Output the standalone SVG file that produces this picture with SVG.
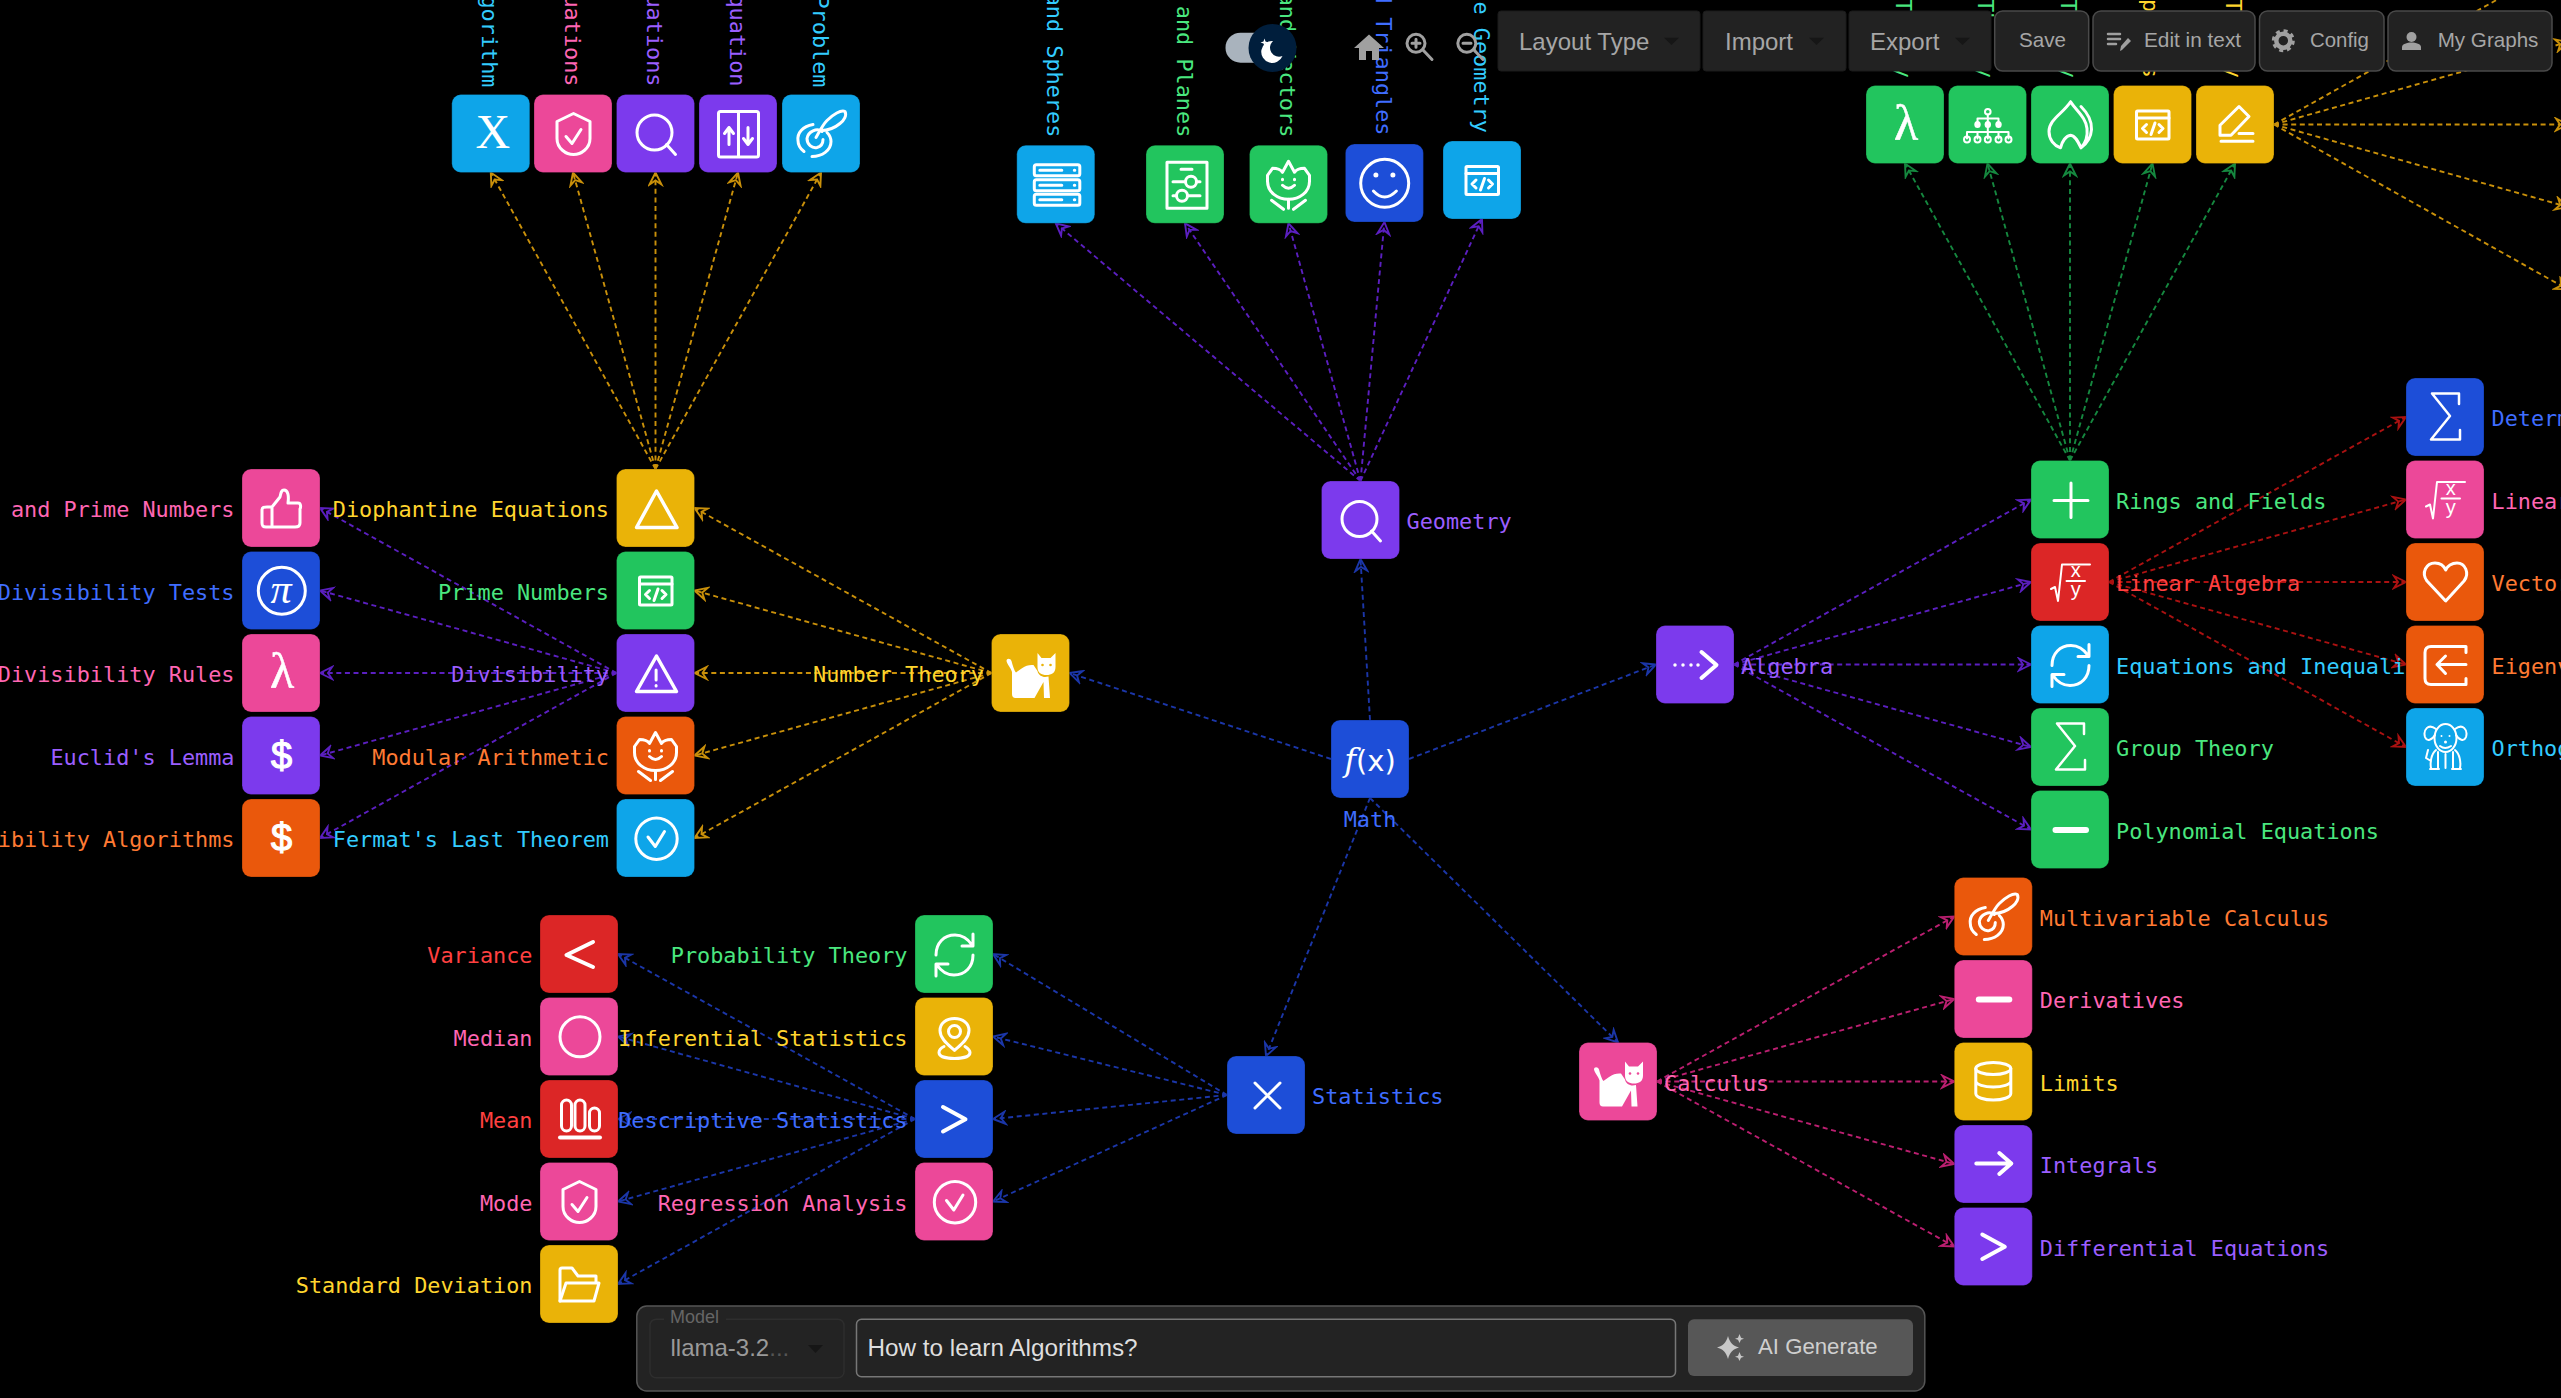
<svg xmlns="http://www.w3.org/2000/svg" width="2561" height="1398" viewBox="0 0 2561 1398">
<style>
text{font-family:"DejaVu Sans Mono",monospace}
.l{font-size:21.85px;white-space:pre}
.e{text-anchor:end}.m{text-anchor:middle}
.b{fill:currentColor;stroke:#000;stroke-opacity:.25;stroke-width:1}
.s{fill:none;stroke:#fff;stroke-width:3;stroke-linecap:round;stroke-linejoin:round}
.f{fill:#fff;stroke:none}
.cat-eye{fill:currentColor;stroke:none}
.glyph{fill:#fff;text-anchor:middle}
.serif{font-family:"Liberation Serif",serif}
.sans{font-family:"Liberation Sans",sans-serif}
.amber{color:#eab308}.green{color:#22c55e}.purple{color:#7c3aed}.orange{color:#ea580c}.sky{color:#0ea5e9}.pink{color:#ec4899}.blue{color:#1d4ed8}.red{color:#dc2626}
.t-amber{fill:#ffd52e}.t-green{fill:#4ae77f}.t-purple{fill:#9b5eff}.t-orange{fill:#ff7a33}.t-sky{fill:#33ccff}.t-pink{fill:#ff66b3}.t-blue{fill:#3f6dff}.t-red{fill:#ff4040}
line{stroke-width:1.9;stroke-dasharray:5 3.6;fill:none}
.ea{stroke:#c9900a;marker-end:url(#a-amber)}
.ep{stroke:#5b1fc0;marker-end:url(#a-purple)}
.eb{stroke:#1b36a8;marker-end:url(#a-blue)}
.eg{stroke:#15883f;marker-end:url(#a-green)}
.er{stroke:#aa1111;marker-end:url(#a-red)}
.ek{stroke:#bb1f70;marker-end:url(#a-pink)}
.mk{fill:none;stroke-width:1.9;stroke-linejoin:miter}
.ui{font-family:"Liberation Sans",sans-serif;fill:#a6a6a6}
.tb{fill:#222;stroke:#1a1a1a}
.tb2{fill:#222;stroke:#4a4a4a;stroke-width:1.5}
.tri{fill:#161616}
.g9{fill:#a0a0a0}
.gs{fill:none;stroke:#a0a0a0;stroke-width:3;stroke-linecap:round}
</style>
<defs>
<marker id="a-amber" viewBox="-14 -8 16 16" markerUnits="userSpaceOnUse" markerWidth="16" markerHeight="16" refX="0" refY="0" orient="auto"><path class="mk" stroke="#c9900a" d="M-12-6L0 0L-12 6L-8 0Z"/></marker>
<marker id="a-purple" viewBox="-14 -8 16 16" markerUnits="userSpaceOnUse" markerWidth="16" markerHeight="16" refX="0" refY="0" orient="auto"><path class="mk" stroke="#5b1fc0" d="M-12-6L0 0L-12 6L-8 0Z"/></marker>
<marker id="a-blue" viewBox="-14 -8 16 16" markerUnits="userSpaceOnUse" markerWidth="16" markerHeight="16" refX="0" refY="0" orient="auto"><path class="mk" stroke="#1b36a8" d="M-12-6L0 0L-12 6L-8 0Z"/></marker>
<marker id="a-green" viewBox="-14 -8 16 16" markerUnits="userSpaceOnUse" markerWidth="16" markerHeight="16" refX="0" refY="0" orient="auto"><path class="mk" stroke="#15883f" d="M-12-6L0 0L-12 6L-8 0Z"/></marker>
<marker id="a-red" viewBox="-14 -8 16 16" markerUnits="userSpaceOnUse" markerWidth="16" markerHeight="16" refX="0" refY="0" orient="auto"><path class="mk" stroke="#aa1111" d="M-12-6L0 0L-12 6L-8 0Z"/></marker>
<marker id="a-pink" viewBox="-14 -8 16 16" markerUnits="userSpaceOnUse" markerWidth="16" markerHeight="16" refX="0" refY="0" orient="auto"><path class="mk" stroke="#bb1f70" d="M-12-6L0 0L-12 6L-8 0Z"/></marker>
<rect id="box" class="b" width="78" height="78" rx="9"/>
<g id="i-shield" class="s"><path d="M39.5 19L56 27V44C56 54 47 60 39.5 60C32 60 23 54 23 44V27Z"/><path d="M32 42L38 49L47 35"/></g>
<g id="i-search" class="s"><circle cx="38" cy="38" r="17.5"/><path d="M50 50L59 60"/></g>
<g id="i-split" class="s"><rect x="19.5" y="17" width="40" height="45.5" rx="2"/><path d="M39.5 17V62M30 50V33M25.5 39L30 33L34.5 39M49 33V50M44.5 44L49 50L53.5 44"/></g>
<g id="i-quill" class="s"><path d="M31 30C21 32 15 38 16 46C16 50 18 54 22 57"/><path d="M30 62C40 62 49 56 49 47C49 43 47 40 45 38"/><path d="M40 37C35 33 26 37 25 44C25 50 30 54 35 53C39 52 41 49 41 45"/><path d="M34 43C38 36 41 30 45 26C51 20 59 15 63 17C65 21 62 26 58 29C52 34 45 36 39 36"/></g>
<g id="i-server" class="s"><rect x="17.5" y="19.5" width="45.5" height="11" rx="2"/><rect x="17.5" y="34.5" width="45.5" height="11" rx="2"/><rect x="17.5" y="49" width="45.5" height="11" rx="2"/><path d="M23 25H45M23 40H45M23 54.500H45M57.500 25H58M57.500 40H58M57.500 54.500H58"/></g>
<g id="i-sliders" class="s"><rect x="21" y="17" width="40" height="46"/><path d="M35 24H46M27 36.500H39M51 36.500H54M42 50.500H54M27 50.500H30"/><circle cx="45" cy="36.500" r="5.500"/><circle cx="36" cy="50.500" r="5.500"/></g>
<g id="i-tulip" class="s"><path d="M18 30L23 23C27 23 31 24 33 27L39 16L45 27C47 24 51 23 55 23L60 30V36C60 47 50 54 39 54C28 54 18 47 18 36Z"/><path d="M33 40Q39 46 45 40M33 34V34.500M45 34V34.500M39 54V63M22 55L34 64M56 55L44 64"/></g>
<g id="i-smile" class="s"><ellipse cx="39.300" cy="39.300" rx="24" ry="24"/><path d="M28 47Q39 59 51 47"/><circle class="f" cx="30.500" cy="31" r="2.500"/><circle class="f" cx="47.500" cy="31" r="2.500"/></g>
<g id="i-code" class="s"><rect x="23" y="25.500" width="32.500" height="28" rx="1"/><path d="M23 32.500H55.500M33 39L29 43L33 47M45.500 39L49.500 43L45.500 47M41.500 37.500L37.500 49"/></g>
<g id="i-tri" class="s"><path d="M40 22L60.500 58.500H20Z" stroke-width="3.500"/></g>
<g id="i-warn" class="s"><path d="M40 22L60 57.500H20Z" stroke-width="3.500"/><path d="M39.600 36V46M39.600 51.500V52"/></g>
<g id="i-check" class="s"><circle cx="40" cy="39.700" r="20.700"/><path d="M31.500 38L38.800 47.500L48 32.500"/></g>
<g id="i-thumb" class="s"><path d="M30 38L38 28C39 24 39 21 42 21C46 21 47 27 46 34H56C59 34 59 38 58 40V54C58 57 56 58 53 58H24C21 58 20 57 20 54V41C20 38 22 38 25 38H30V58"/></g>
<g id="i-cat"><path class="f" d="M20.500 38C19 33 16 31 15 27C15 24 19 24 20 27C21 31 23 37 24.500 38.500C28 36 34 30 42 31L46 37C47 42 52 44 57 42.500L58.500 64H52.500L52 48L43 64H24Q20.500 64 20.500 60Z"/><path class="f" d="M46 19L50 24H59L64 19V33C64 39 60 41 55 41C50 41 46 39 46 33Z"/><circle class="cat-eye" cx="51" cy="31" r="1.300"/><circle class="cat-eye" cx="59" cy="31" r="1.300"/></g>
<g id="i-refresh" class="s"><path d="M21 40C21 28 29 20 40 20C47 20 53 24 57 30M58 19V31H47M58 40C58 52 50 60 39 60C32 60 26 56 22 50M21 61V49H33"/></g>
<g id="i-pin" class="s"><path d="M39.500 53C33 47 25 41 25 33C25 26 31 21 39.500 21C48 21 54 26 54 33C54 41 46 47 39.500 53Z"/><circle cx="39.500" cy="34" r="6"/><path d="M29 49C25 51 24 53 24 55C24 59 31 61 39.500 61C48 61 55 59 55 55C55 53 53 51 50 49"/></g>
<path id="i-chev" class="s" style="stroke-width:4" d="M28 27L50.500 39.300L28 51.500"/>
<path id="i-lt" class="s" style="stroke-width:4" d="M53 27L26.500 40L53 52"/>
<circle id="i-circle" class="s" cx="40" cy="39.300" r="20"/>
<g id="i-bars" class="s"><rect x="21.500" y="20" width="10" height="31" rx="5"/><rect x="35" y="20" width="10" height="31" rx="5"/><rect x="49.500" y="28" width="10" height="23" rx="5"/><path style="stroke-width:4" d="M20 57.500H60"/></g>
<g id="i-folder" class="s"><path d="M20 56V25Q20 23 22 23H32L38 31H56V37"/><path d="M26 38H59L54 56H20Z"/></g>
<path id="i-plus" class="s" d="M23 40H57M40 22.500V57"/>
<g id="i-sqrt"><path class="s" style="stroke-width:2" d="M20 46L24 44L27 58L31 21.500H59M35.500 38H54"/><text class="glyph sans" x="44.700" y="34" font-size="20">x</text><text class="glyph sans" x="44.700" y="53" font-size="20">y</text></g>
<path id="i-sigma" class="s" style="stroke-width:2.500" d="M53 26V15.500H26L44 38L25 61.500H54V52"/>
<rect id="i-minus" class="f" x="21.500" y="36.500" width="36.500" height="6" rx="3"/>
<path id="i-heart" class="s" d="M39.700 58L21 38C15 30 20 20 29 20C34 20 38 23 39.700 27C41 23 46 20 51 20C59 20 64 30 58 38Z"/>
<g id="i-exit" class="s"><path d="M60 27V21H25Q19 21 19 27V53Q19 59 25 59H60V53M60 39H31M39.500 30.500L31 39L39.500 48"/></g>
<g id="i-dog" class="s" style="stroke-width:2"><ellipse cx="39.500" cy="30" rx="11" ry="14"/><path d="M30 21C22 15 17 22 19 29C21 34 26 32 29 27M49 21C57 15 62 22 60 29C58 34 53 32 50 27M34 38Q39 42 45 38M30 42C25 46 24 55 25 60M49 42C54 46 55 55 54 60M32 44V60M47 44V60M39.500 46V60M24 61H33M46 61H55M22 42L20 50L25 53"/><circle class="f" cx="35.500" cy="28" r="1"/><circle class="f" cx="43.500" cy="28" r="1"/><circle class="f" cx="39.500" cy="34" r="1.500"/></g>
<g id="i-db" class="s"><ellipse cx="39" cy="26" rx="17.500" ry="6"/><path d="M21.500 26V51C21.500 55 30 57.500 39 57.500C48 57.500 56.500 55 56.500 51V26M21.500 38.500C21.500 42 30 44.500 39 44.500C48 44.500 56.500 42 56.500 38.500"/></g>
<path id="i-arrow" class="s" style="stroke-width:4" d="M22 38.500H57M45 28L57 38.500L45 49"/>
<path id="i-x" class="s" style="stroke-width:3" d="M28 27L53 52M53 27L28 52" />
<g id="i-dots" class="s"><path style="stroke-width:3.500" d="M19 39.500V39.600M27 39.500V39.600M35 39.500V39.600M42 39.500V39.600"/><path style="stroke-width:4" d="M45.500 26.500L60.500 39.500L45.500 52.500"/></g>
<g id="i-tree" class="s" style="stroke-width:2"><circle cx="39.300" cy="26.300" r="2.800"/><path d="M39.300 29V46M29 39V33H50V39M18.500 53V46.500H60V53M29 46.500V53M39.300 46.500V53M50 46.500V53"/><ellipse class="f" cx="29" cy="39" rx="3.200" ry="3.500"/><ellipse class="f" cx="39.300" cy="39" rx="3.200" ry="3.500"/><ellipse class="f" cx="50" cy="39" rx="3.200" ry="3.500"/><circle cx="18.500" cy="54" r="3"/><circle cx="29" cy="54" r="3"/><circle cx="39.300" cy="54" r="3"/><circle cx="50" cy="54" r="3"/><circle cx="60" cy="54" r="3"/></g>
<g id="i-flame" class="s"><path d="M39.600 16.300C32 28 18 34 18 46C18 54 23 60 29.500 62.300C31 56 35 50 39.600 49.700C44 50 47 56 50 62.300C54 58 57 52 56 43C55 32 46 26 39.600 16.300M50 21C56 27 61 35 60.500 44C60 52 56 58 50 62.300"/></g>
<g id="i-pencil" class="s"><path d="M43 21L53 31L35 49.700H24V39.700Z"/><path d="M43 48H57M25 55.700H57"/></g>
<g id="i-lambda"><text class="glyph serif" x="40" y="54" font-size="50" stroke="#fff" stroke-width=".5">λ</text></g>
<g id="i-dollar"><text class="glyph sans" x="39.500" y="52" font-size="38" stroke="#fff" stroke-width="1.200">$</text></g>
</defs>
<rect width="2561" height="1398" fill="#000"/>
<g id="connectors">
<line class="eb" x1="1331" y1="759" x2="1069.500" y2="673"/>
<line class="eb" x1="1370" y1="720" x2="1360.500" y2="559"/>
<line class="eb" x1="1409" y1="759" x2="1656" y2="664.500"/>
<line class="eb" x1="1370" y1="798" x2="1266" y2="1056"/>
<line class="eb" x1="1370" y1="798" x2="1618" y2="1042.500"/>
<line class="ea" x1="991.500" y1="673" x2="694.500" y2="508"/>
<line class="ea" x1="991.500" y1="673" x2="694.500" y2="590.500"/>
<line class="ea" x1="991.500" y1="673" x2="694.500" y2="673"/>
<line class="ea" x1="991.500" y1="673" x2="694.500" y2="755.500"/>
<line class="ea" x1="991.500" y1="673" x2="694.500" y2="838"/>
<line class="ep" x1="616.500" y1="673" x2="320" y2="508"/>
<line class="ep" x1="616.500" y1="673" x2="320" y2="590.500"/>
<line class="ep" x1="616.500" y1="673" x2="320" y2="673"/>
<line class="ep" x1="616.500" y1="673" x2="320" y2="755.500"/>
<line class="ep" x1="616.500" y1="673" x2="320" y2="838"/>
<line class="ea" x1="655.500" y1="469" x2="490.800" y2="172.500"/>
<line class="ea" x1="655.500" y1="469" x2="573" y2="172.500"/>
<line class="ea" x1="655.500" y1="469" x2="655.500" y2="172.500"/>
<line class="ea" x1="655.500" y1="469" x2="738" y2="172.500"/>
<line class="ea" x1="655.500" y1="469" x2="821" y2="172.500"/>
<line class="ep" x1="1360.500" y1="481" x2="1055.800" y2="223.300"/>
<line class="ep" x1="1360.500" y1="481" x2="1185" y2="223.300"/>
<line class="ep" x1="1360.500" y1="481" x2="1288.500" y2="223.300"/>
<line class="ep" x1="1360.500" y1="481" x2="1384.400" y2="222"/>
<line class="ep" x1="1360.500" y1="481" x2="1482" y2="219"/>
<line class="ep" x1="1734" y1="664.500" x2="2031" y2="499.500"/>
<line class="ep" x1="1734" y1="664.500" x2="2031" y2="582"/>
<line class="ep" x1="1734" y1="664.500" x2="2031" y2="664.500"/>
<line class="ep" x1="1734" y1="664.500" x2="2031" y2="747"/>
<line class="ep" x1="1734" y1="664.500" x2="2031" y2="829.500"/>
<line class="er" x1="2109" y1="582" x2="2406" y2="417"/>
<line class="er" x1="2109" y1="582" x2="2406" y2="499.500"/>
<line class="er" x1="2109" y1="582" x2="2406" y2="582"/>
<line class="er" x1="2109" y1="582" x2="2406" y2="664.500"/>
<line class="er" x1="2109" y1="582" x2="2406" y2="747"/>
<line class="eg" x1="2070" y1="460.500" x2="1905" y2="163.500"/>
<line class="eg" x1="2070" y1="460.500" x2="1987.500" y2="163.500"/>
<line class="eg" x1="2070" y1="460.500" x2="2070" y2="163.500"/>
<line class="eg" x1="2070" y1="460.500" x2="2152.500" y2="163.500"/>
<line class="eg" x1="2070" y1="460.500" x2="2235" y2="163.500"/>
<line class="ea" x1="2274" y1="124.500" x2="2568" y2="-40"/>
<line class="ea" x1="2274" y1="124.500" x2="2568" y2="42"/>
<line class="ea" x1="2274" y1="124.500" x2="2568" y2="124.500"/>
<line class="ea" x1="2274" y1="124.500" x2="2568" y2="207"/>
<line class="ea" x1="2274" y1="124.500" x2="2568" y2="289.500"/>
<line class="ek" x1="1657" y1="1081.500" x2="1954.300" y2="916.500"/>
<line class="ek" x1="1657" y1="1081.500" x2="1954.300" y2="999"/>
<line class="ek" x1="1657" y1="1081.500" x2="1954.300" y2="1081.500"/>
<line class="ek" x1="1657" y1="1081.500" x2="1954.300" y2="1164"/>
<line class="ek" x1="1657" y1="1081.500" x2="1954.300" y2="1246.500"/>
<line class="eb" x1="1227" y1="1095" x2="993" y2="954"/>
<line class="eb" x1="1227" y1="1095" x2="993" y2="1036.500"/>
<line class="eb" x1="1227" y1="1095" x2="993" y2="1119"/>
<line class="eb" x1="1227" y1="1095" x2="993" y2="1201.500"/>
<line class="eb" x1="915" y1="1119" x2="618" y2="954"/>
<line class="eb" x1="915" y1="1119" x2="618" y2="1036.500"/>
<line class="eb" x1="915" y1="1119" x2="618" y2="1119"/>
<line class="eb" x1="915" y1="1119" x2="618" y2="1201.500"/>
<line class="eb" x1="915" y1="1119" x2="618" y2="1284"/>
</g>
<g id="nodes">
<g id="n-math" class="blue" transform="translate(1331,720)"><use href="#box"/><text class="glyph" x="39" y="51" font-size="32"><tspan font-family="DejaVu Serif" font-style="italic">f</tspan><tspan font-family="DejaVu Sans" font-size="29">(x)</tspan></text><text class="l m t-blue" x="39" y="106.500">Math</text></g>
<g id="n-geometry" class="purple" transform="translate(1321.500,481)"><use href="#box"/><use href="#i-search"/><text class="l t-purple" x="85" y="48.300">Geometry</text></g>
<g id="n-number-theory" class="amber" transform="translate(991.500,634)"><use href="#box"/><use href="#i-cat"/><text class="l e t-amber" x="-7.500" y="48.300">Number Theory</text></g>
<g id="n-algebra" class="purple" transform="translate(1656,625.500)"><use href="#box"/><use href="#i-dots"/><text class="l t-purple" x="85" y="48.300">Algebra</text></g>
<g id="n-statistics" class="blue" transform="translate(1227,1056)"><use href="#box"/><use href="#i-x"/><text class="l t-blue" x="85" y="48.300">Statistics</text></g>
<g id="n-calculus" class="pink" transform="translate(1579,1042.500)"><use href="#box"/><use href="#i-cat"/><text class="l t-pink" x="85" y="48.300">Calculus</text></g>

<g id="n-diophantine" class="amber" transform="translate(616.500,469)"><use href="#box"/><use href="#i-tri"/><text class="l e t-amber" x="-7.500" y="48.300">Diophantine Equations</text></g>
<g id="n-prime" class="green" transform="translate(616.500,551.500)"><use href="#box"/><use href="#i-code"/><text class="l e t-green" x="-7.500" y="48.300">Prime Numbers</text></g>
<g id="n-divisibility" class="purple" transform="translate(616.500,634)"><use href="#box"/><use href="#i-warn"/><text class="l e t-purple" x="-7.500" y="48.300">Divisibility</text></g>
<g id="n-modular" class="orange" transform="translate(616.500,716.500)"><use href="#box"/><use href="#i-tulip"/><text class="l e t-orange" x="-7.500" y="48.300">Modular Arithmetic</text></g>
<g id="n-fermat" class="sky" transform="translate(616.500,799)"><use href="#box"/><use href="#i-check"/><text class="l e t-sky" x="-7.500" y="48.300">Fermat's Last Theorem</text></g>

<g id="n-prime-numbers" class="pink" transform="translate(242,469)"><use href="#box"/><use href="#i-thumb"/><text class="l e t-pink" x="-7.500" y="48.300">and Prime Numbers</text></g>
<g id="n-div-tests" class="blue" transform="translate(242,551.500)"><use href="#box"/><ellipse class="s" cx="39.800" cy="39.300" rx="23.500" ry="23.500"/><text class="glyph serif" x="39" y="51" font-size="42" font-style="italic">π</text><text class="l e t-blue" x="-7.500" y="48.300">Divisibility Tests</text></g>
<g id="n-div-rules" class="pink" transform="translate(242,634)"><use href="#box"/><use href="#i-lambda"/><text class="l e t-pink" x="-7.500" y="48.300">Divisibility Rules</text></g>
<g id="n-euclid" class="purple" transform="translate(242,716.500)"><use href="#box"/><use href="#i-dollar"/><text class="l e t-purple" x="-7.500" y="48.300">Euclid's Lemma</text></g>
<g id="n-div-alg" class="orange" transform="translate(242,799)"><use href="#box"/><use href="#i-dollar"/><text class="l e t-orange" x="-7.500" y="48.300">ibility Algorithms</text></g>

<g id="n-top1" class="sky" transform="translate(451.800,94.500)"><use href="#box"/><text class="glyph serif" x="41" y="53.500" font-size="48">X</text><text class="l e t-sky" transform="translate(30.500,-7) rotate(90)">gorithm</text></g>
<g id="n-top2" class="pink" transform="translate(534,94.500)"><use href="#box"/><use href="#i-shield"/><text class="l e t-pink" transform="translate(30.500,-8) rotate(90)">uations</text></g>
<g id="n-top3" class="purple" transform="translate(616.500,94.500)"><use href="#box"/><use href="#i-search"/><text class="l e t-purple" transform="translate(30.500,-8) rotate(90)">uations</text></g>
<g id="n-top4" class="purple" transform="translate(699,94.500)"><use href="#box"/><use href="#i-split"/><text class="l e t-purple" transform="translate(30.500,-8) rotate(90)">quation</text></g>
<g id="n-top5" class="sky" transform="translate(782,94.500)"><use href="#box"/><use href="#i-quill"/><text class="l e t-sky" transform="translate(30.500,-7) rotate(90)">Problem</text></g>

<g id="n-geo1" class="sky" transform="translate(1016.800,145.300)"><use href="#box"/><use href="#i-server"/><text class="l e t-sky" transform="translate(30.500,-8) rotate(90)">and Spheres</text></g>
<g id="n-geo2" class="green" transform="translate(1146,145.300)"><use href="#box"/><use href="#i-sliders"/><text class="l e t-green" transform="translate(30.500,-8) rotate(90)">and Planes</text></g>
<g id="n-geo3" class="green" transform="translate(1249.500,145.300)"><use href="#box"/><use href="#i-tulip"/><text class="l e t-green" transform="translate(30.500,-8) rotate(90)">and Vectors</text></g>
<g id="n-geo4" class="blue" transform="translate(1345.400,144)"><use href="#box"/><use href="#i-smile"/><text class="l e t-blue" transform="translate(30.500,-8.500) rotate(90)">d Triangles</text></g>
<g id="n-geo5" class="sky" transform="translate(1443,141)"><use href="#box"/><use href="#i-code"/><text class="l e t-sky" transform="translate(30.500,-8) rotate(90)">e Geometry</text></g>

<g id="n-rings" class="green" transform="translate(2031,460.500)"><use href="#box"/><use href="#i-plus"/><text class="l t-green" x="85" y="48.300">Rings and Fields</text></g>
<g id="n-linear" class="red" transform="translate(2031,543)"><use href="#box"/><use href="#i-sqrt"/><text class="l t-red" x="85" y="48.300">Linear Algebra</text></g>
<g id="n-equations" class="sky" transform="translate(2031,625.500)"><use href="#box"/><use href="#i-refresh"/><text class="l t-sky" x="85" y="48.300">Equations and Inequalities</text></g>
<g id="n-group" class="green" transform="translate(2031,708)"><use href="#box"/><use href="#i-sigma"/><text class="l t-green" x="85" y="48.300">Group Theory</text></g>
<g id="n-poly" class="green" transform="translate(2031,790.500)"><use href="#box"/><use href="#i-minus"/><text class="l t-green" x="85" y="48.300">Polynomial Equations</text></g>

<g id="n-det" class="blue" transform="translate(2406,378)"><use href="#box"/><use href="#i-sigma"/><text class="l t-blue" x="85.500" y="48.300">Determ</text></g>
<g id="n-linear2" class="pink" transform="translate(2406,460.500)"><use href="#box"/><use href="#i-sqrt"/><text class="l t-pink" x="85.500" y="48.300">Linear</text></g>
<g id="n-vector" class="orange" transform="translate(2406,543)"><use href="#box"/><use href="#i-heart"/><text class="l t-orange" x="85.500" y="48.300">Vector</text></g>
<g id="n-eigen" class="orange" transform="translate(2406,625.500)"><use href="#box"/><use href="#i-exit"/><text class="l t-orange" x="85.500" y="48.300">Eigenv</text></g>
<g id="n-ortho" class="sky" transform="translate(2406,708)"><use href="#box"/><use href="#i-dog"/><text class="l t-sky" x="85.500" y="48.300">Orthog</text></g>

<g id="n-t1" class="green" transform="translate(1866,85.500)"><use href="#box"/><use href="#i-lambda"/><text class="l e t-green" transform="translate(29.500,-7.500) rotate(90)">Theory</text></g>
<g id="n-t2" class="green" transform="translate(1948.500,85.500)"><use href="#box"/><use href="#i-tree"/><text class="l e t-green" transform="translate(29.500,-7.500) rotate(90)">Theory</text></g>
<g id="n-t3" class="green" transform="translate(2031,85.500)"><use href="#box"/><use href="#i-flame"/><text class="l e t-green" transform="translate(29.500,-7.500) rotate(90)">Theory</text></g>
<g id="n-t4" class="amber" transform="translate(2113.500,85.500)"><use href="#box"/><use href="#i-code"/><text class="l e t-amber" transform="translate(29.500,-7.500) rotate(90)">p    s</text></g>
<g id="n-t5" class="amber" transform="translate(2196,85.500)"><use href="#box"/><use href="#i-pencil"/><text class="l e t-amber" transform="translate(29.500,-7.500) rotate(90)">Theory</text></g>

<g id="n-multi" class="orange" transform="translate(1954.300,877.500)"><use href="#box"/><use href="#i-quill"/><text class="l t-orange" x="85.500" y="48.300">Multivariable Calculus</text></g>
<g id="n-deriv" class="pink" transform="translate(1954.300,960)"><use href="#box"/><use href="#i-minus"/><text class="l t-pink" x="85.500" y="48.300">Derivatives</text></g>
<g id="n-limits" class="amber" transform="translate(1954.300,1042.500)"><use href="#box"/><use href="#i-db"/><text class="l t-amber" x="85.500" y="48.300">Limits</text></g>
<g id="n-integrals" class="purple" transform="translate(1954.300,1125)"><use href="#box"/><use href="#i-arrow"/><text class="l t-purple" x="85.500" y="48.300">Integrals</text></g>
<g id="n-diffeq" class="purple" transform="translate(1954.300,1207.500)"><use href="#box"/><use href="#i-chev"/><text class="l t-purple" x="85.500" y="48.300">Differential Equations</text></g>

<g id="n-prob" class="green" transform="translate(915,915)"><use href="#box"/><use href="#i-refresh"/><text class="l e t-green" x="-7.500" y="48.300">Probability Theory</text></g>
<g id="n-inf" class="amber" transform="translate(915,997.500)"><use href="#box"/><use href="#i-pin"/><text class="l e t-amber" x="-7.500" y="48.300">Inferential Statistics</text></g>
<g id="n-desc" class="blue" transform="translate(915,1080)"><use href="#box"/><use href="#i-chev"/><text class="l e t-blue" x="-7.500" y="48.300">Descriptive Statistics</text></g>
<g id="n-reg" class="pink" transform="translate(915,1162.500)"><use href="#box"/><use href="#i-check"/><text class="l e t-pink" x="-7.500" y="48.300">Regression Analysis</text></g>

<g id="n-var" class="red" transform="translate(540,915)"><use href="#box"/><use href="#i-lt"/><text class="l e t-red" x="-7.500" y="48.300">Variance</text></g>
<g id="n-median" class="pink" transform="translate(540,997.500)"><use href="#box"/><use href="#i-circle"/><text class="l e t-pink" x="-7.500" y="48.300">Median</text></g>
<g id="n-mean" class="red" transform="translate(540,1080)"><use href="#box"/><use href="#i-bars"/><text class="l e t-red" x="-7.500" y="48.300">Mean</text></g>
<g id="n-mode" class="pink" transform="translate(540,1162.500)"><use href="#box"/><use href="#i-shield"/><text class="l e t-pink" x="-7.500" y="48.300">Mode</text></g>
<g id="n-std" class="amber" transform="translate(540,1245)"><use href="#box"/><use href="#i-folder"/><text class="l e t-amber" x="-7.500" y="48.300">Standard Deviation</text></g>
</g>
<g id="view-controls">
<rect x="1225.500" y="32.700" width="60" height="30" rx="15" fill="#a9b3bd"/>
<circle cx="1272.500" cy="48" r="24" fill="#001e3c"/>
<path d="M1264.500 38.500l1 3l3 1l-3 1l-1 3l-1-3l-3-1l3-1z" fill="#fff"/>
<path d="M1273 41a11 11 0 1 0 9.500 15a9 9 0 0 1-9.500-15z" fill="#fff"/>
<path class="g9" d="M1369 34.500L1384 48H1379V60H1372V51H1366V60H1359V48H1354Z"/>
<g class="gs"><circle cx="1416" cy="43.300" r="9"/><path d="M1423 50L1432 59.500M1412 43.300H1420M1416 39.300V47.300" /></g>
<g class="gs"><circle cx="1466.800" cy="43.300" r="9"/><path d="M1474 50L1483 59.500M1463 43.300H1471"/></g>
</g>
<g id="toolbar">
<rect class="tb" x="1498" y="11" width="202" height="60" rx="3"/>
<rect class="tb" x="1703" y="11" width="143" height="60" rx="3"/>
<rect class="tb" x="1849" y="11" width="142" height="60" rx="3"/>
<text class="ui" x="1519" y="50" font-size="24">Layout Type</text>
<text class="ui" x="1725" y="50" font-size="24">Import</text>
<text class="ui" x="1870" y="50" font-size="24">Export</text>
<path class="tri" d="M1664 37.700H1679L1671.500 45ZM1809 37.700H1824L1816.500 45ZM1955 37.700H1970L1962.500 45Z"/>
<rect class="tb2" x="1994.700" y="11" width="94" height="60" rx="8"/>
<rect class="tb2" x="2093" y="11" width="162" height="60" rx="8"/>
<rect class="tb2" x="2259.500" y="11" width="124.500" height="60" rx="8"/>
<rect class="tb2" x="2388" y="11" width="164" height="60" rx="8"/>
<text class="ui" x="2019" y="47" font-size="20.600">Save</text>
<path class="gs" style="stroke-width:2.500" d="M2108 34H2120M2108 39H2120M2108 44H2116"/>
<path class="g9" d="M2122 50L2120 51L2121 46L2128 38L2131 41L2124 48Z"/>
<text class="ui" x="2144" y="47" font-size="20.800">Edit in text</text>
<circle cx="2283.300" cy="40.700" r="7" fill="none" stroke="#a0a0a0" stroke-width="4.500"/>
<circle cx="2283.300" cy="40.700" r="10" fill="none" stroke="#a0a0a0" stroke-width="3" stroke-dasharray="4 3.850"/>
<text class="ui" x="2310" y="47" font-size="20.400">Config</text>
<circle class="g9" cx="2411.500" cy="37" r="5"/>
<path class="g9" d="M2402 50V47C2402 44 2407 42.500 2411.500 42.500C2416 42.500 2421 44 2421 47V50Z"/>
<text class="ui" x="2437.700" y="47" font-size="20.600">My Graphs</text>
</g>
<g id="prompt-bar">
<rect x="636.800" y="1306" width="1288" height="85" rx="10" fill="#232323" stroke="#555" stroke-width="1.500"/>
<rect x="650" y="1319.300" width="194" height="58.500" rx="6" fill="#232323" stroke="#2e2e2e" stroke-width="1.500"/>
<rect x="664" y="1312" width="62" height="14" fill="#232323"/>
<text class="sans" x="670" y="1323" font-size="18" fill="#666">Model</text>
<text class="sans" x="670.500" y="1356" font-size="24" fill="#9a9a9a">llama-3.2<tspan fill="#555">...</tspan></text>
<path class="tri" d="M808 1345H823L815.500 1353Z"/>
<rect x="856.500" y="1319.300" width="819" height="57.400" rx="5" fill="#232323" stroke="#777" stroke-width="1.500"/>
<text class="sans" x="867.500" y="1356" font-size="24.300" fill="#dedede">How to learn Algorithms?</text>
<rect x="1688" y="1319.300" width="225" height="56.700" rx="6" fill="#575757"/>
<path fill="#c8c8c8" d="M1728 1336C1730 1343 1733 1346 1739 1347.500C1733 1349 1730 1352 1728 1359C1726 1352 1723 1349 1717 1347.500C1723 1346 1726 1343 1728 1336ZM1739.500 1334L1741 1337.700L1744 1338.700L1741 1339.700L1739.500 1343L1738 1339.700L1735 1338.700L1738 1337.700ZM1739.500 1352L1741 1355.700L1744 1356.700L1741 1357.700L1739.500 1361L1738 1357.700L1735 1356.700L1738 1355.700Z"/>
<text class="sans" x="1758" y="1354" font-size="22.200" fill="#cfcfcf">AI Generate</text>
</g>
</svg>
